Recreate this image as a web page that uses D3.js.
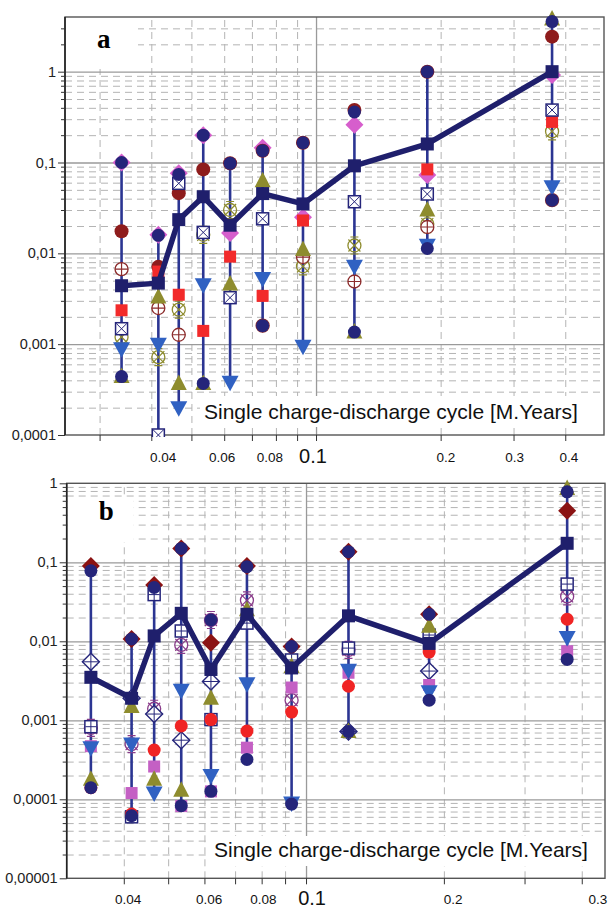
<!DOCTYPE html>
<html>
<head>
<meta charset="utf-8">
<script src="https://cdn.jsdelivr.net/npm/d3@7"></script>
<style>
  body { margin: 0; background: #fff; }
  svg { display: block; font-family: "Liberation Sans", Arial, sans-serif; }
  .grid-minor line { stroke: #b4b4b4; stroke-dasharray: 7,5; stroke-width: 1; }
  .grid-major line { stroke: #9a9a9a; stroke-width: 1.3; }
  .ticks line { stroke: #333; }
  .ticks path { display: none; }
</style>
</head>
<body>
<div id="chart"></div>
<script>
// cycle lengths [M.Years], same columns in both panels
var cycles = [0.0339, 0.0416, 0.0466, 0.0534, 0.062, 0.0743, 0.093, 0.1238, 0.1857, 0.3717];

// ---- panel a ----
var aHigh         = [0.1, 0.0158, 0.075, 0.2, 0.098, 0.14, 0.165, 0.37, 1.0, 3.6];
var aLow          = [0.00044, 0.0001, 0.0002, 0.00037, 0.00038, 0.0016, 0.00095, 0.00136, 0.0113, 0.0385];
var aPinkDiamond  = [0.1, 0.016, 0.076, 0.2, 0.0167, 0.145, 0.025, 0.26, 0.073, 0.92];
var aDarkRed      = [0.0175, 0.0071, 0.046, 0.084, 0.098, 0.135, 0.165, 0.378, 1.0, 2.43];
var aOliveUp      = [0.00044, 0.0033, 0.00037, 0.00037, 0.0046, 0.063, 0.011, 0.00136, 0.030, 3.8];
var aRedSquare    = [0.00236, 0.0063, 0.0035, 0.0014, 0.0092, 0.0034, 0.023, 0.037, 0.084, 0.28];
var aCrossCircle  = [0.0067, 0.0025, 0.00127, null, null, 0.0016, 0.0091, 0.0049, 0.0195, 0.0385];
var aXSquare      = [0.00148, 0.0001, 0.059, 0.017, 0.00325, 0.024, null, 0.037, 0.045, 0.378];
var aHourglass    = [0.0012, 0.00072, 0.0024, 0.016, 0.03, null, 0.0072, 0.0122, 0.021, 0.22];
var aBlueDown     = [0.00089, 0.001, 0.0002, 0.0045, 0.00038, 0.0053, 0.00095, 0.0072, 0.0123, 0.054];
var aCircleTop    = [0.1, 0.0158, 0.074, 0.2, 0.098, 0.135, 0.165, 0.36, 1.0, 3.56];
var aCircleBottom = [0.00044, null, null, 0.00037, null, 0.0016, null, 0.00136, 0.0113, 0.0385];
var aMain         = [0.0044, 0.0047, 0.0235, 0.042, 0.0204, 0.0455, 0.035, 0.092, 0.16, 1.0];

// ---- panel b ----
var bHigh         = [0.09, 0.0107, 0.0516, 0.15, 0.0186, 0.09, 0.0086, 0.136, 0.022, 0.86];
var bLow          = [0.00014, 0.000062, 0.00011, 0.000083, 0.000126, 0.00032, 0.000087, 0.00072, 0.0018, 0.0059];
var bDarkDiamond  = [0.09, 0.0107, 0.0516, 0.15, 0.0096, 0.09, 0.0086, 0.136, 0.022, 0.45];
var bOpenDiamond  = [0.0055, 0.0019, 0.0012, 0.00056, 0.0031, null, null, 0.00072, 0.0042, null];
var bPlusSquare   = [0.00083, 0.00006, 0.039, 0.0135, 0.00102, 0.017, 0.0058, 0.0082, 0.012, 0.053];
var bHourglass    = [0.0008, 0.0005, 0.0014, 0.009, 0.0186, 0.033, 0.0018, 0.0078, null, 0.037];
var bOliveUp      = [0.00018, 0.0015, 0.00018, 0.00013, 0.0019, 0.025, 0.0048, 0.00072, 0.0155, 0.86];
var bRedCircle    = [0.00014, 0.000065, 0.00042, 0.00085, 0.00102, 0.00073, 0.00127, 0.0027, 0.0073, 0.019];
var bPinkSquare   = [0.00047, 0.00012, 0.00026, 0.000082, 0.000126, 0.00045, 0.0026, 0.004, 0.0028, 0.0075];
var bBlueDown     = [0.00045, 0.0005, 0.00012, 0.0024, 0.0002, 0.0029, 0.00009, 0.0043, 0.0023, 0.0112];
var bCircleTop    = [0.078, 0.0107, 0.048, 0.15, 0.0186, 0.088, 0.0086, 0.136, 0.022, 0.78];
var bCircleBottom = [0.00014, 0.000062, null, 0.000083, 0.000126, 0.00032, 0.000087, 0.00072, 0.0018, 0.0059];
var bMain         = [0.0035, 0.0019, 0.0117, 0.0226, 0.0044, 0.022, 0.0046, 0.021, 0.0094, 0.174];

// tick labels
var aYTicks = [0.0001, 0.001, 0.01, 0.1, 1];
var aYLabels = ["0,0001", "0,001", "0,01", "0,1", "1"];
var bYTicks = [0.00001, 0.0001, 0.001, 0.01, 0.1, 1];
var bYLabels = ["0,00001", "0,0001", "0,001", "0,01", "0,1", "1"];
var xTickText = ["0.04", "0.06", "0.08", "0.1", "0.2", "0.3", "0.4"];
var aXTextAt = [0.0427, 0.0593, 0.0774, 0.0983, 0.206, 0.302, 0.408];
var bXTextAt = [0.0409, 0.0614, 0.0807, 0.1031, 0.2094, 0.434];
var xMinor = [0.03, 0.04, 0.05, 0.06, 0.07, 0.08, 0.09, 0.2, 0.3, 0.4];
var xLabel = "Single charge-discharge cycle [M.Years]";

var width = 609, height = 908;
var svg = d3.select("#chart").append("svg")
    .attr("width", width)
    .attr("height", height);

const NAVY = "#25257a";

function minorValues(domain) {
    var out = [];
    for (var e = -6; e <= 1; e++) {
        for (var k = 2; k <= 9; k++) {
            var v = k * Math.pow(10, e);
            if (v > domain[0] * 1.0001 && v < domain[1]) out.push(v);
        }
    }
    return out;
}

function drawMarker(g, type, cx, cy) {
    var m = g.append("g").attr("transform", `translate(${cx},${cy})`);
    switch (type) {
        case "navyCircle":
            m.append("circle").attr("r", 6.5).attr("fill", NAVY); break;
        case "darkRedCircle":
            m.append("circle").attr("r", 7).attr("fill", "#8e1c1c"); break;
        case "redCircle":
            m.append("circle").attr("r", 6.5).attr("fill", "#f02424"); break;
        case "pinkDiamond":
            m.append("path").attr("d", "M0,-9L9,0L0,9L-9,0Z").attr("fill", "#d65ecc"); break;
        case "darkDiamond":
            m.append("path").attr("d", "M0,-9L9,0L0,9L-9,0Z").attr("fill", "#8b1313"); break;
        case "oliveUp":
            m.append("path").attr("d", "M0,-9L8,6.5L-8,6.5Z").attr("fill", "#8e8c2e"); break;
        case "blueDown":
            m.append("path").attr("d", "M0,9L8.5,-6.5L-8.5,-6.5Z").attr("fill", "#3061c2"); break;
        case "redSquare":
            m.append("rect").attr("x", -6).attr("y", -6).attr("width", 12).attr("height", 12).attr("fill", "#f22a2a"); break;
        case "pinkSquare":
            m.append("rect").attr("x", -6).attr("y", -6).attr("width", 12).attr("height", 12).attr("fill", "#c460c4"); break;
        case "mainSquare":
            m.append("rect").attr("x", -6.5).attr("y", -6.5).attr("width", 13).attr("height", 13).attr("fill", "#1f1f6c"); break;
        case "crossCircle":
            m.append("circle").attr("r", 6.5).attr("fill", "#fff").attr("stroke", "#8b2b2b").attr("stroke-width", 1.3);
            m.append("path").attr("d", "M-6.5,0H6.5M0,-6.5V6.5").attr("stroke", "#8b2b2b").attr("stroke-width", 1.2);
            break;
        case "xSquare":
            m.append("rect").attr("x", -6).attr("y", -6).attr("width", 12).attr("height", 12)
                .attr("fill", "#fff").attr("stroke", NAVY).attr("stroke-width", 1.5);
            m.append("path").attr("d", "M-5.5,-5.5L5.5,5.5M5.5,-5.5L-5.5,5.5").attr("stroke", NAVY).attr("stroke-width", 1);
            break;
        case "plusSquare":
            m.append("rect").attr("x", -6).attr("y", -6).attr("width", 12).attr("height", 12)
                .attr("fill", "#fff").attr("stroke", NAVY).attr("stroke-width", 1.5);
            m.append("path").attr("d", "M-5.5,0H5.5M0,-5.5V5.5").attr("stroke", NAVY).attr("stroke-width", 1);
            break;
        case "openDiamond":
            m.append("path").attr("d", "M0,-8.5L8.5,0L0,8.5L-8.5,0Z").attr("fill", "#fff").attr("stroke", NAVY).attr("stroke-width", 1.4);
            m.append("path").attr("d", "M-8.5,0H8.5M0,-8.5V8.5").attr("stroke", NAVY).attr("stroke-width", 1);
            break;
        case "oliveHourglass":
        case "purpleHourglass":
            var c = type == "oliveHourglass" ? "#8e8c2e" : "#8a3c8a";
            m.append("circle").attr("r", 6.5).attr("fill", "none").attr("stroke", c).attr("stroke-width", 1.3);
            m.append("path").attr("d", "M-6,-6L6,6M6,-6L-6,6M-4,-8.5H4M-4,8.5H4").attr("stroke", c).attr("stroke-width", 1.2);
            break;
    }
}

function renderPanel(p) {
    var xScale = d3.scaleLog().domain(p.xDomain).range([p.left, p.right]);
    var yScale = d3.scaleLog().domain(p.yDomain).range([p.bottom, p.top]);
    var innerW = p.right - p.left, innerH = p.bottom - p.top;
    var g = svg.append("g");

    // grid
    g.append("g").attr("class", "grid-minor")
        .attr("transform", `translate(${p.left},0)`)
        .call(d3.axisLeft(yScale).tickValues(minorValues(p.yDomain)).tickSize(-innerW).tickFormat(""))
        .select(".domain").remove();
    g.append("g").attr("class", "grid-minor")
        .attr("transform", `translate(0,${p.bottom})`)
        .call(d3.axisBottom(xScale).tickValues(xMinor.filter(v => v > p.xDomain[0] && v < p.xDomain[1]))
            .tickSize(-innerH).tickFormat(""))
        .select(".domain").remove();
    g.append("g").attr("class", "grid-major")
        .attr("transform", `translate(${p.left},0)`)
        .call(d3.axisLeft(yScale).tickValues(p.yTicks.slice(1).filter(v => v < p.yDomain[1])).tickSize(-innerW).tickFormat(""))
        .select(".domain").remove();
    g.append("g").attr("class", "grid-major")
        .attr("transform", `translate(0,${p.bottom})`)
        .call(d3.axisBottom(xScale).tickValues([0.1]).tickSize(-innerH).tickFormat(""))
        .select(".domain").remove();

    // white boxes for panel letter and axis title
    g.append("rect").attr("x", p.left + 1).attr("y", p.letterBox[0])
        .attr("width", p.letterBox[2]).attr("height", p.letterBox[1] - p.letterBox[0]).attr("fill", "#fff");
    g.append("rect").attr("x", p.titleBox[2]).attr("y", p.titleBox[0])
        .attr("width", p.right - p.titleBox[2] - 1).attr("height", p.titleBox[1] - p.titleBox[0]).attr("fill", "#fff");

    // frame
    g.append("rect").attr("x", p.left).attr("y", p.top).attr("width", innerW).attr("height", innerH)
        .attr("fill", "none").attr("stroke", "#555").attr("stroke-width", 1.4);
    g.append("line").attr("x1", p.left).attr("x2", p.left).attr("y1", p.top).attr("y2", p.bottom)
        .attr("stroke", "#222").attr("stroke-width", 1.6);

    // tick marks
    g.append("g").attr("class", "ticks").attr("transform", `translate(${p.left},0)`)
        .call(d3.axisLeft(yScale).tickValues(minorValues(p.yDomain)).tickSize(4).tickFormat(""));
    g.append("g").attr("class", "ticks").attr("transform", `translate(${p.left},0)`)
        .call(d3.axisLeft(yScale).tickValues(p.yTicks).tickSize(7).tickFormat(""));
    g.append("g").attr("class", "ticks").attr("transform", `translate(0,${p.bottom})`)
        .call(d3.axisBottom(xScale).tickValues(xMinor.concat([0.1]).filter(v => v > p.xDomain[0] && v < p.xDomain[1]))
            .tickSize(6).tickFormat(""));

    // y labels
    p.yTicks.forEach((v, i) => {
        g.append("text").attr("x", p.left - 9).attr("y", yScale(v) + 5)
            .attr("text-anchor", "end").attr("font-size", 14.5).attr("fill", "#222")
            .text(p.yLabels[i]);
    });
    // x labels
    p.xTextAt.forEach((v, i) => {
        var t = xTickText[i];
        g.append("text").attr("x", xScale(v)).attr("y", t == "0.1" ? p.xLabelY + 1 : p.xLabelY)
            .attr("text-anchor", "middle").attr("fill", "#111")
            .attr("font-size", t == "0.1" ? 20 : 13.5)
            .text(t);
    });

    // axis title inside plot
    g.append("text").attr("x", p.titleX).attr("y", p.titleY)
        .attr("font-size", 21).attr("fill", "#111").text(xLabel);

    // panel letter
    g.append("text").attr("x", p.left + 32).attr("y", p.letterY)
        .attr("font-family", "'Liberation Serif', 'Times New Roman', serif")
        .attr("font-weight", "bold").attr("font-size", 27).text(p.letter);

    // clip markers to slightly beyond the frame
    var clipId = "clip" + p.letter;
    svg.append("clipPath").attr("id", clipId).append("rect")
        .attr("x", p.left).attr("y", 0).attr("width", innerW + 5).attr("height", p.bottom + 2);
    var marks = g.append("g").attr("clip-path", `url(#${clipId})`);

    // range lines
    cycles.forEach((c, i) => {
        marks.append("line")
            .attr("x1", xScale(c)).attr("x2", xScale(c))
            .attr("y1", yScale(p.high[i])).attr("y2", yScale(p.low[i]))
            .attr("stroke", "#2b3592").attr("stroke-width", 2.6);
    });

    // series markers
    p.series.forEach(s => {
        s.values.forEach((v, i) => {
            if (v == null) return;
            drawMarker(marks, s.type, xScale(cycles[i]), yScale(v));
        });
    });

    // main line
    var line = d3.line().x((d, i) => xScale(cycles[i])).y(d => yScale(d));
    marks.append("path").attr("d", line(p.main))
        .attr("fill", "none").attr("stroke", "#1f1f6c").attr("stroke-width", 5.5)
        .attr("stroke-linejoin", "round");
    p.main.forEach((v, i) => drawMarker(marks, "mainSquare", xScale(cycles[i]), yScale(v)));
}

renderPanel({
    letter: "a", left: 65, right: 604, top: 17, bottom: 435,
    xDomain: [0.02475, 0.4962], yDomain: [0.0001, 4],
    yTicks: aYTicks, yLabels: aYLabels, xTextAt: aXTextAt, xLabelY: 462,
    letterBox: [18, 69, 72], letterY: 48,
    titleBox: [396, 427, 200], titleX: 204, titleY: 419,
    high: aHigh, low: aLow, main: aMain,
    series: [
        { type: "pinkDiamond", values: aPinkDiamond },
        { type: "darkRedCircle", values: aDarkRed },
        { type: "oliveHourglass", values: aHourglass },
        { type: "redSquare", values: aRedSquare },
        { type: "crossCircle", values: aCrossCircle },
        { type: "xSquare", values: aXSquare },
        { type: "oliveUp", values: aOliveUp },
        { type: "blueDown", values: aBlueDown },
        { type: "navyCircle", values: aCircleTop },
        { type: "navyCircle", values: aCircleBottom }
    ]
});

renderPanel({
    letter: "b", left: 66.7, right: 605, top: 483.3, bottom: 878.3,
    xDomain: [0.03002, 0.4496], yDomain: [0.00001, 1],
    yTicks: bYTicks, yLabels: bYLabels, xTextAt: bXTextAt, xLabelY: 904,
    letterBox: [497, 542, 66], letterY: 520,
    titleBox: [836, 866, 210], titleX: 214, titleY: 857,
    high: bHigh, low: bLow, main: bMain,
    series: [
        { type: "darkDiamond", values: bDarkDiamond },
        { type: "purpleHourglass", values: bHourglass },
        { type: "plusSquare", values: bPlusSquare },
        { type: "openDiamond", values: bOpenDiamond },
        { type: "pinkSquare", values: bPinkSquare },
        { type: "redCircle", values: bRedCircle },
        { type: "oliveUp", values: bOliveUp },
        { type: "blueDown", values: bBlueDown },
        { type: "navyCircle", values: bCircleTop },
        { type: "navyCircle", values: bCircleBottom }
    ]
});
</script>
</body>
</html>
